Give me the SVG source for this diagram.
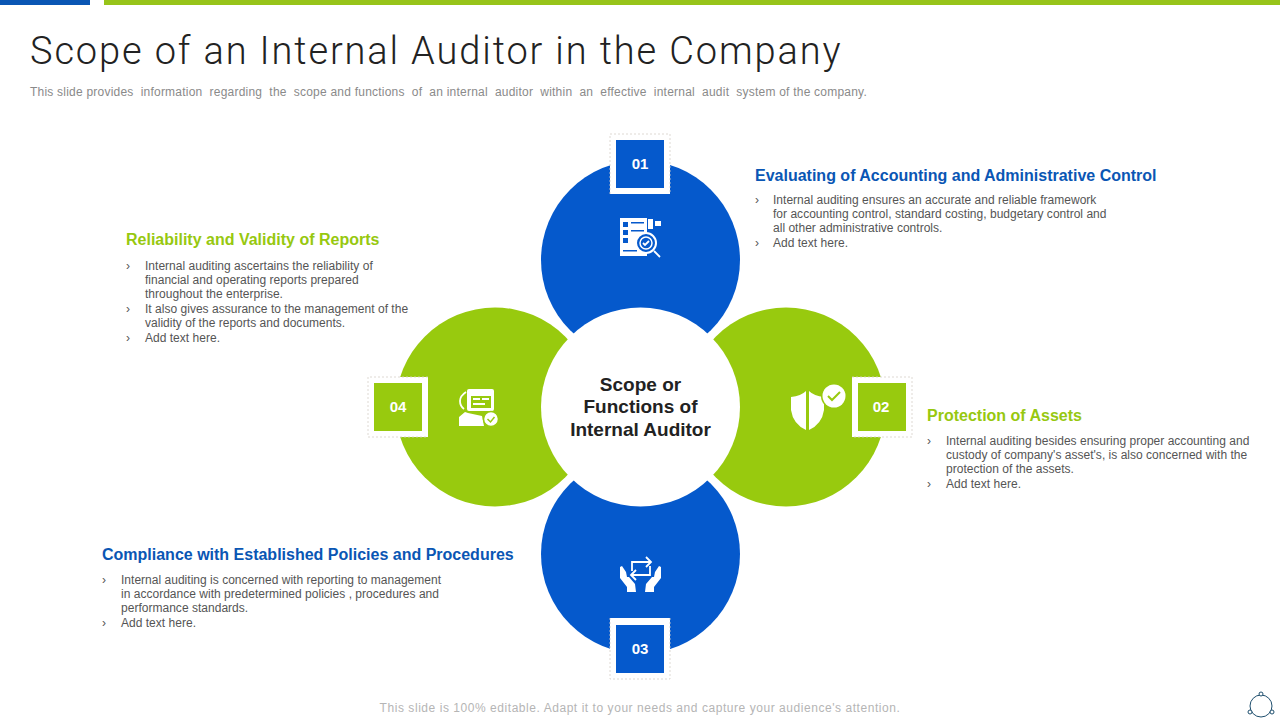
<svg xmlns="http://www.w3.org/2000/svg" width="1280" height="720" viewBox="0 0 1280 720">
<style>
text{font-family:"Liberation Sans",Arial,sans-serif;white-space:pre}
.t{font-family:"Roboto","Liberation Sans",sans-serif;font-size:38px;fill:#222;font-weight:300;letter-spacing:1.87px}
.sub{font-size:12px;fill:#8a8a8a;letter-spacing:.22px}
.hb{font-size:16px;font-weight:700;fill:#0a56b4}
.hg{font-size:16px;font-weight:700;fill:#97c80f}
.b{font-size:12px;fill:#555;letter-spacing:.02px}
.c{font-size:19px;font-weight:700;fill:#222;text-anchor:middle}
.n{font-size:15px;font-weight:700;fill:#fff;text-anchor:middle}
.blue{fill:#0559cc}
.green{fill:#98ca0e}
.fw{fill:#fff}
.fr{fill:none;stroke:#d5cfc8;stroke-width:.8;stroke-dasharray:2 2}
.ic{fill:#fff;stroke:none}
.il{fill:none;stroke:#fff;stroke-width:1.8}
</style>
<rect x="0" y="0" width="90" height="5" fill="#0a56b4"/>
<rect x="104" y="0" width="1176" height="5" fill="#97c41a"/>
<text class="t" x="30" y="64">Scope of an Internal Auditor in the Company</text>
<text class="sub" x="30" y="96">This slide provides  information  regarding  the  scope and functions  of  an internal  auditor  within  an  effective  internal  audit  system of the company.</text>

<g id="connectors">
<circle class="blue" cx="640.500" cy="260" r="99.500"/>
<circle class="green" cx="786" cy="407" r="99.500"/>
<circle class="blue" cx="640.500" cy="554" r="99.500"/>
<circle class="green" cx="495" cy="407" r="99.500"/>
</g>
<g id="center">
<circle cx="640.500" cy="407" r="99.500" fill="#fff"/>
<text class="c" x="640.500" y="391">Scope or</text>
<text class="c" x="640.500" y="413">Functions of</text>
<text class="c" x="640.500" y="436">Internal Auditor</text>
</g>

<g id="node1">
<rect class="fw" x="610" y="134" width="60" height="60"/>
<path class="fr" d="M610 194V134H670V194"/>
<rect class="blue" x="616" y="140" width="48" height="48"/>
<text class="n" x="640" y="169">01</text>
<g>
<rect class="ic" x="620" y="218" width="27" height="38"/>
<rect x="623" y="222" width="5" height="5" fill="#0559cc"/><rect x="623" y="230" width="5" height="5" fill="#0559cc"/><rect x="623" y="238" width="5" height="5" fill="#0559cc"/>
<rect x="631" y="222" width="13" height="1.500" fill="#0559cc"/><rect x="631" y="230" width="13" height="1.500" fill="#0559cc"/><rect x="623" y="250" width="14" height="1.500" fill="#0559cc"/>
<rect class="ic" x="648" y="219" width="5" height="10"/><rect class="ic" x="655" y="221" width="6" height="5"/>
<circle cx="646" cy="243" r="10" fill="#0559cc" stroke="#fff" stroke-width="2"/>
<circle cx="646" cy="243" r="6" fill="none" stroke="#fff" stroke-width="1.500"/>
<path class="il" d="M643 243l2 2 4-4M654 251l6 6" stroke-width="1.500"/>
</g>
<text class="hb" x="755" y="181">Evaluating of Accounting and Administrative Control</text>
<text class="b" x="755" y="204">›</text><text class="b" x="773" y="204">Internal auditing ensures an accurate and reliable framework</text>
<text class="b" x="773" y="218">for accounting control, standard costing, budgetary control and</text>
<text class="b" x="773" y="232">all other administrative controls.</text>
<text class="b" x="755" y="247">›</text><text class="b" x="773" y="247">Add text here.</text>
</g>

<g id="node2">
<rect class="fw" x="852" y="377" width="60" height="60"/>
<path class="fr" d="M852 377H912V437H852"/>
<rect class="green" x="858" y="383" width="48" height="48"/>
<text class="n" x="881" y="412">02</text>
<path class="ic" d="M791 397q10-1 15-6v39q-13-6-15-20zM809 391q5 5 15 6v13q-2 14-15 20z"/>
<circle cx="834" cy="396" r="13" fill="#98ca0e"/>
<circle class="ic" cx="834" cy="396" r="11.500"/>
<path d="M828 396l4 4 8-8" fill="none" stroke="#98ca0e" stroke-width="2"/>
<text class="hg" x="927" y="421">Protection of Assets</text>
<text class="b" x="927" y="445">›</text><text class="b" x="946" y="445">Internal auditing besides ensuring proper accounting and</text>
<text class="b" x="946" y="459">custody of company's asset's, is also concerned with the</text>
<text class="b" x="946" y="473">protection of the assets.</text>
<text class="b" x="927" y="488">›</text><text class="b" x="946" y="488">Add text here.</text>
</g>

<g id="node3">
<rect class="fw" x="610" y="618" width="60" height="61"/>
<path class="fr" d="M610 618V679H670V618"/>
<rect class="blue" x="616" y="625" width="48" height="48"/>
<text class="n" x="640" y="654">03</text>
<path class="il" d="M632 571v-9h18M646 557l5 5-5 5M650 566v9h-18M636 570l-5 5 5 5" stroke-width="2"/>
<path class="ic" d="M620 567l2-1 4 6 1 5 2 0 6 7 1 8h-9v-5l-7-9zM661 567l-2-1-4 6-1 5-2 0-6 7-1 8h9v-5l7-9z"/>
<text class="hb" x="102" y="560">Compliance with Established Policies and Procedures</text>
<text class="b" x="102" y="584">›</text><text class="b" x="121" y="584">Internal auditing is concerned with reporting to management</text>
<text class="b" x="121" y="598">in accordance with predetermined policies , procedures and</text>
<text class="b" x="121" y="612">performance standards.</text>
<text class="b" x="102" y="627">›</text><text class="b" x="121" y="627">Add text here.</text>
</g>

<g id="node4">
<rect class="fw" x="368" y="377" width="60" height="60"/>
<path class="fr" d="M428 377H368V437H428"/>
<rect class="green" x="374" y="383" width="48" height="48"/>
<text class="n" x="398" y="412">04</text>
<rect class="ic" x="467" y="389" width="27" height="22" rx="2"/>
<rect x="471" y="396" width="20" height="12" fill="#98ca0e"/>
<rect x="473" y="398" width="7" height="2" fill="#fff"/><rect x="482" y="398" width="7" height="2" fill="#fff"/><rect x="473" y="403" width="12" height="2" fill="#fff"/>
<path class="il" d="M466 392q-6 4-6 9t4 8"/>
<path class="ic" d="M459 417l6-5 3 1 14 3 2 10h-25z"/>
<circle cx="491" cy="419" r="7.500" fill="#fff" stroke="#98ca0e" stroke-width="1.500"/>
<path d="M487.500 419l3 3 4-5" fill="none" stroke="#98ca0e" stroke-width="1.500"/>
<text class="hg" x="126" y="245">Reliability and Validity of Reports</text>
<text class="b" x="126" y="270">›</text><text class="b" x="145" y="270">Internal auditing ascertains the reliability of</text>
<text class="b" x="145" y="284">financial and operating reports prepared</text>
<text class="b" x="145" y="298">throughout the enterprise.</text>
<text class="b" x="126" y="313">›</text><text class="b" x="145" y="313">It also gives assurance to the management of the</text>
<text class="b" x="145" y="327">validity of the reports and documents.</text>
<text class="b" x="126" y="342">›</text><text class="b" x="145" y="342">Add text here.</text>
</g>

<text x="640" y="712" text-anchor="middle" style="font-size:12px;fill:#b5b5b5;letter-spacing:.55px">This slide is 100% editable. Adapt it to your needs and capture your audience's attention.</text>
<g id="logo" fill="#fff" stroke="#1f4f6e" stroke-width="1">
<circle cx="1261" cy="706" r="11" fill="none"/>
<circle cx="1261" cy="694" r="2"/><circle cx="1250" cy="712" r="2"/><circle cx="1272" cy="712" r="2"/>
</g>
</svg>
